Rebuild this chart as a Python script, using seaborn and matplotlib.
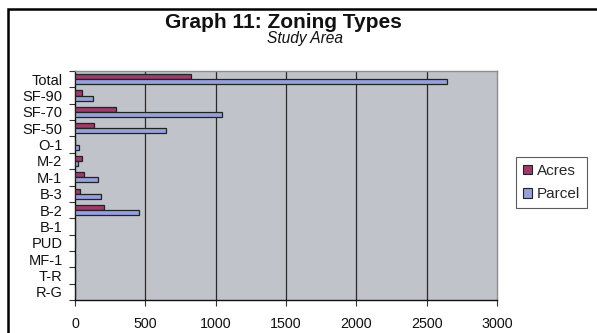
import matplotlib
matplotlib.use("Agg")
import matplotlib.pyplot as plt
from matplotlib.patches import Rectangle
import pandas as pd
import seaborn as sns

# Zoning categories, top to bottom
zones = ["Total", "SF-90", "SF-70", "SF-50", "O-1", "M-2", "M-1", "B-3",
         "B-2", "B-1", "PUD", "MF-1", "T-R", "R-G"]
acres = [825, 50, 289, 137, 0, 50, 64, 38, 206, 0, 0, 0, 0, 0]
parcel = [2645, 128, 1047, 647, 28, 18, 161, 182, 457, 0, 0, 0, 0, 0]
x_ticks = [0, 500, 1000, 1500, 2000, 2500, 3000]

df = pd.DataFrame({
    "Zone": zones * 2,
    "Value": acres + parcel,
    "Series": ["Acres"] * len(zones) + ["Parcel"] * len(zones),
})

sns.set_theme(style="white")
plt.rcParams["font.family"] = ["Liberation Sans", "DejaVu Sans"]

fig = plt.figure(figsize=(5.97, 3.33), dpi=100)
fig.patch.set_facecolor("white")
ax = fig.add_axes([75 / 597, 33 / 333, 422 / 597, 229 / 333])
ax.set_facecolor("#C0C3C9")

palette = {"Acres": "#9C3B6C", "Parcel": "#96A0DC"}
sns.barplot(data=df, y="Zone", x="Value", hue="Series", order=zones,
            hue_order=["Acres", "Parcel"], palette=palette, orient="h",
            width=0.62, edgecolor="#222222", linewidth=0.9, saturation=1,
            ax=ax, legend=False, zorder=3)

ax.set_xlim(0, 3000)
ax.set_ylim(len(zones) - 0.5, -0.5)
ax.set_xticks(x_ticks)
ax.set_xticklabels([str(t) for t in x_ticks], fontsize=10.3, color="#111111")
ax.tick_params(axis="x", length=4, width=0.8, color="#333333", pad=8,
               direction="out", bottom=True)

# category labels centred on rows, tick marks on row boundaries
ax.set_yticks(range(len(zones)))
ax.set_yticklabels(zones, fontsize=10.5, color="#111111")
ax.tick_params(axis="y", which="major", length=0, pad=9)
ax.set_yticks([i - 0.5 for i in range(len(zones) + 1)], minor=True)
ax.tick_params(axis="y", which="minor", length=4, width=0.8,
               color="#333333", direction="out", left=True)
ax.set_xlabel("")
ax.set_ylabel("")

for x in x_ticks[1:-1]:
    ax.axvline(x, color="#2a2a2a", lw=0.9, zorder=1)

for side in ["top", "right"]:
    ax.spines[side].set_color("#8c8c8c")
    ax.spines[side].set_linewidth(1.0)
for side in ["left", "bottom"]:
    ax.spines[side].set_color("#111111")
    ax.spines[side].set_linewidth(1.0)

# legend
handles = [Rectangle((0, 0), 1, 1, facecolor=palette[s], edgecolor="#222222",
                     lw=0.8) for s in ["Acres", "Parcel"]]
leg = fig.legend(handles, ["Acres", "Parcel"], loc="upper left",
                 bbox_to_anchor=(516 / 597, 1 - 157 / 333),
                 frameon=True, fancybox=False, fontsize=11,
                 handlelength=0.6, handleheight=0.6, handletextpad=0.3,
                 borderpad=0.45, labelspacing=0.6, borderaxespad=0)
leg.get_frame().set_edgecolor("#333333")
leg.get_frame().set_linewidth(0.8)

fig.text(283 / 597, 1 - 22.5 / 333, "Graph 11: Zoning Types", ha="center",
         va="center", fontsize=15, fontweight="bold", color="#111111")
fig.text(305 / 597, 1 - 39 / 333, "Study Area", ha="center", va="center",
         fontsize=11.2, fontstyle="italic", color="#111111")

# chart frame
fig.add_artist(Rectangle((8 / 597, -0.2), 1.2, 0.2 + (333 - 9) / 333,
                         transform=fig.transFigure, fill=False,
                         edgecolor="black", lw=1.8))

fig.savefig("out.png", dpi=100, facecolor="white")
